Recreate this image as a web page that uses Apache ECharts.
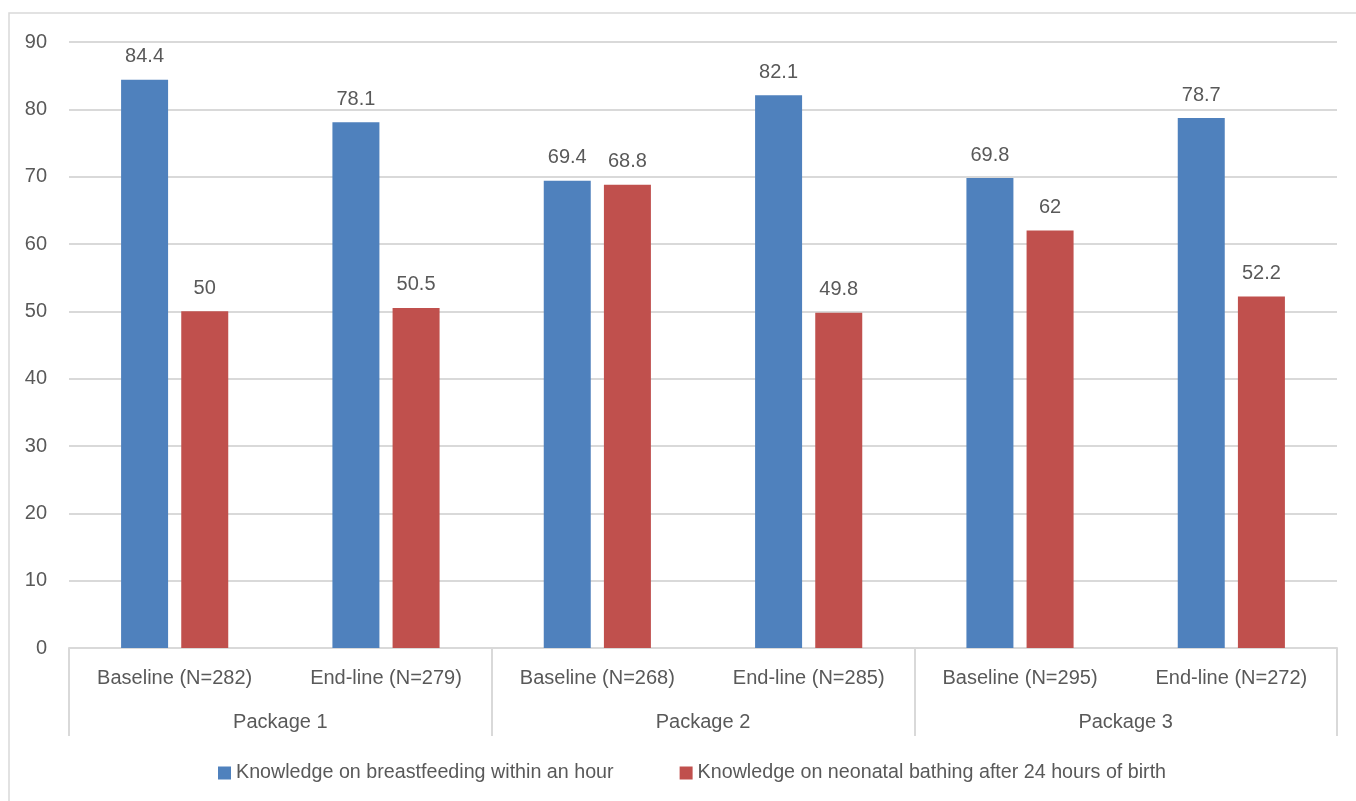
<!DOCTYPE html>
<html>
<head>
<meta charset="utf-8">
<script src="https://cdn.jsdelivr.net/npm/echarts@6/dist/echarts.min.js"></script>
<style>
  html, body { margin: 0; padding: 0; background: #fff; }
  #chart { width: 1356px; height: 801px; }
</style>
</head>
<body>
<div id="chart"></div>
<script>
// Survey rounds (inner axis) and packages (outer axis)
const rounds = ['Baseline (N=282)', 'End-line (N=279)', 'Baseline (N=268)', 'End-line (N=285)', 'Baseline (N=295)', 'End-line (N=272)'];
const packages = ['Package 1', 'Package 2', 'Package 3'];
const seriesNames = ['Knowledge on breastfeeding within an hour', 'Knowledge on neonatal bathing after 24 hours of birth'];
const breastfeeding = [84.4, 78.1, 69.4, 82.1, 69.8, 78.7];
const bathing = [50, 50.5, 68.8, 49.8, 62, 52.2];

const FONT = "'Liberation Sans', Arial, sans-serif";
const FS = 20;
const TEXT = '#595959';
const LINE = '#d9d9d9';

const chart = echarts.init(document.getElementById('chart'));
chart.setOption({
  animation: false,
  textStyle: { fontFamily: FONT },
  color: ['#4f81bd', '#c0504d'],
  graphic: [{
    type: 'rect',
    shape: { x: 9, y: 13, width: 1360, height: 800 },
    style: { fill: 'none', stroke: LINE, lineWidth: 1.5 },
    silent: true
  }],
  grid: { left: 69, right: 19, top: 42, bottom: 153 },
  legend: {
    bottom: 13,
    left: 213,
    icon: 'rect',
    itemWidth: 13,
    itemHeight: 13,
    itemGap: 66,
    itemStyle: { borderWidth: 0 },
    textStyle: { fontSize: 19.7, color: TEXT, fontFamily: FONT }
  },
  xAxis: [{
    type: 'category',
    data: rounds,
    position: 'bottom',
    axisLine: { show: true, lineStyle: { color: LINE, width: 2 } },
    axisTick: { show: false },
    axisLabel: { interval: 0, fontSize: FS, color: TEXT, margin: 20, fontFamily: FONT }
  }, {
    type: 'category',
    data: packages,
    position: 'bottom',
    axisLine: { show: false },
    axisTick: { show: true, interval: 0, length: 88, lineStyle: { color: LINE, width: 2 } },
    axisLabel: { interval: 0, fontSize: FS, color: TEXT, margin: 64, fontFamily: FONT }
  }],
  yAxis: {
    type: 'value',
    min: 0,
    max: 90,
    interval: 10,
    axisLine: { show: false },
    axisTick: { show: false },
    splitLine: { lineStyle: { color: LINE, width: 2 } },
    axisLabel: { fontSize: FS, color: TEXT, margin: 22, fontFamily: FONT }
  },
  series: [{
    name: seriesNames[0],
    type: 'bar',
    data: breastfeeding,
    barWidth: 47,
    barGap: '28%',
    label: { show: true, position: 'top', distance: 13, fontSize: FS, color: TEXT, fontFamily: FONT }
  }, {
    name: seriesNames[1],
    type: 'bar',
    data: bathing,
    barWidth: 47,
    label: { show: true, position: 'top', distance: 13, fontSize: FS, color: TEXT, fontFamily: FONT }
  }]
});
</script>
</body>
</html>
